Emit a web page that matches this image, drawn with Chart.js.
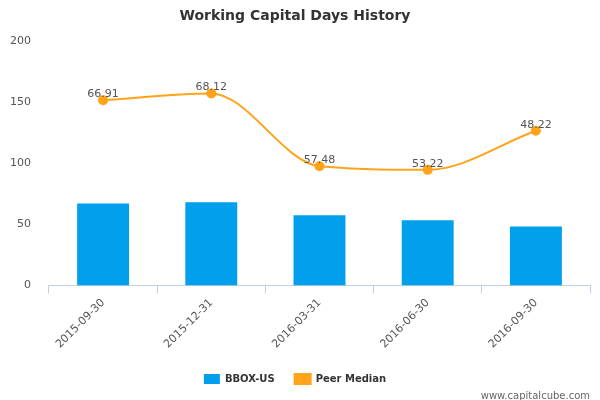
<!DOCTYPE html>
<html>
<head>
<script src="https://cdn.jsdelivr.net/npm/chart.js@4"></script>
<style>
  body { margin: 0; background: #fff; }
  #wrap { width: 600px; height: 400px; position: relative; }
</style>
</head>
<body>
<div id="wrap"><canvas id="chart"></canvas></div>
<script>
const categories = ['2015-09-30', '2015-12-31', '2016-03-31', '2016-06-30', '2016-09-30'];
const companyValues = [66.91, 68.12, 57.48, 53.22, 48.22];
const peerMedian = [151.5, 157, 97.5, 94.5, 126.5];
const yTicks = [0, 50, 100, 150, 200];

// bar value labels + site credit
const extras = {
  id: 'extras',
  afterDatasetsDraw(chart) {
    const ctx = chart.ctx;
    ctx.save();
    ctx.font = '11px "DejaVu Sans", sans-serif';
    ctx.fillStyle = '#555';
    ctx.textAlign = 'center';
    chart.getDatasetMeta(0).data.forEach((bar, i) => {
      ctx.fillText(companyValues[i].toFixed(2), bar.x, bar.y - 6);
    });
    ctx.font = '10px "DejaVu Sans", sans-serif';
    ctx.fillStyle = '#666';
    ctx.textAlign = 'right';
    ctx.fillText('www.capitalcube.com', 590, 396);
    ctx.restore();
  }
};

new Chart(document.getElementById('chart'), {
  data: {
    labels: categories,
    datasets: [
      {
        type: 'line',
        label: 'Peer Median',
        data: peerMedian,
        borderColor: '#ffa31a',
        backgroundColor: '#ffa31a',
        borderWidth: 2,
        pointRadius: 4,
        pointHoverRadius: 4,
        cubicInterpolationMode: 'monotone',
        order: 0
      },
      {
        type: 'bar',
        label: 'BBOX-US',
        data: companyValues,
        backgroundColor: '#019fec',
        barPercentage: 0.48,
        categoryPercentage: 1,
        order: 1
      }
    ]
  },
  options: {
    responsive: true,
    maintainAspectRatio: false,
    animation: false,
    layout: { padding: { left: 0, right: 10, top: 0, bottom: 6 } },
    plugins: {
      title: {
        display: true,
        text: 'Working Capital Days History',
        color: '#333',
        font: { family: '"DejaVu Sans", sans-serif', size: 14, weight: 'bold' },
        padding: { top: 8, bottom: 16 }
      },
      legend: {
        position: 'bottom',
        reverse: true,
        labels: {
          color: '#333',
          font: { family: '"DejaVu Sans", sans-serif', size: 10, weight: 'bold' },
          boxWidth: 16,
          boxHeight: 10,
          padding: 20
        }
      },
      tooltip: { enabled: false }
    },
    scales: {
      x: {
        grid: { display: true, drawOnChartArea: false, color: '#c0d0e0', tickLength: 8, offset: true },
        border: { color: '#c0d0e0' },
        ticks: {
          color: '#555',
          maxRotation: 45,
          minRotation: 45,
          font: { family: '"DejaVu Sans", sans-serif', size: 11 }
        }
      },
      y: {
        min: 0,
        max: 200,
        afterBuildTicks(axis) { axis.ticks = yTicks.map(v => ({ value: v })); },
        grid: { display: false },
        border: { display: false },
        ticks: {
          color: '#555',
          padding: 10,
          font: { family: '"DejaVu Sans", sans-serif', size: 11 }
        }
      }
    }
  },
  plugins: [extras]
});
</script>
</body>
</html>
